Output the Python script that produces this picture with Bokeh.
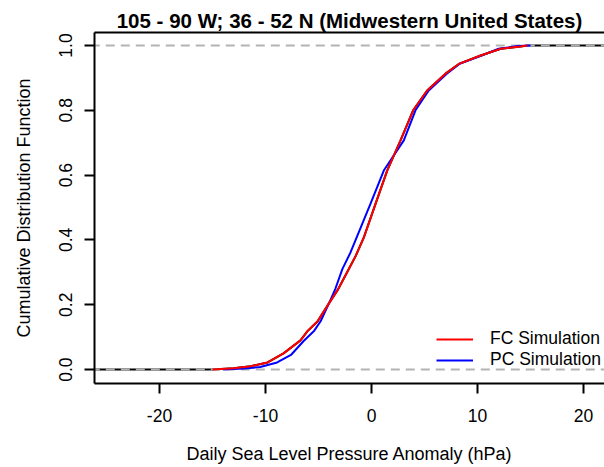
from bokeh.plotting import figure
from bokeh.models import Range1d, FixedTicker, LinearAxis, Legend, LegendItem, Title
from bokeh.embed import file_html
from bokeh.resources import INLINE

title_text = "105 - 90 W; 36 - 52 N (Midwestern United States)"
x_label = "Daily Sea Level Pressure Anomaly (hPa)"
y_label = "Cumulative Distribution Function"
x_ticks = [-20, -10, 0, 10, 20]
y_ticks = [0.0, 0.2, 0.4, 0.6, 0.8, 1.0]

fc_x = [-15.0, -13.0, -11.4, -9.8, -8.3, -6.7, -6.0, -5.1, -4.0, -3.2, -2.3, -1.5,
        -0.72, 0.38, 1.48, 2.74, 3.93, 5.25, 6.98, 8.24, 10.3, 12.2, 14.06, 14.7]
fc_f = [0.0, 0.004, 0.01, 0.022, 0.05, 0.09, 0.12, 0.148, 0.205, 0.245, 0.30, 0.35,
        0.408, 0.511, 0.614, 0.707, 0.80, 0.861, 0.913, 0.943, 0.969, 0.99, 0.997, 1.0]

pc_x = [-14.0, -12.0, -10.5, -8.9, -7.6, -6.4, -5.4, -4.8, -4.0, -3.4, -2.75, -2.0,
        -1.35, -0.1, 1.16, 3.05, 4.15, 5.4, 7.1, 8.3, 10.4, 12.0, 13.8, 15.0]
pc_f = [0.0, 0.003, 0.008, 0.022, 0.045, 0.088, 0.12, 0.149, 0.205, 0.25, 0.31, 0.36,
        0.412, 0.511, 0.614, 0.707, 0.80, 0.861, 0.913, 0.943, 0.969, 0.99, 0.998, 1.0]

tail_lo, tail_hi = -1000.0, 1000.0
ref_levels = [0.0, 1.0]

FONT = "Liberation Sans"

p = figure(width=604, height=467, output_backend="svg", toolbar_location=None,
           x_range=Range1d(-26.13, 21.98), y_range=Range1d(-0.043, 1.040),
           min_border_left=94, min_border_right=0, min_border_top=32,
           min_border_bottom=84, title=None)
p.outline_line_color = None
p.grid.visible = False
p.background_fill_color = "white"
p.border_fill_color = "white"

for ax in (p.xaxis[0], p.yaxis[0]):
    ax.axis_line_color = "black"
    ax.axis_line_width = 2
    ax.major_tick_line_color = "black"
    ax.major_tick_line_width = 2
    ax.major_tick_out = 10
    ax.major_tick_in = 0
    ax.minor_tick_line_color = None
    ax.major_label_text_font = FONT
    ax.major_label_text_font_size = "17.5px"
    ax.major_label_text_color = "black"
    ax.axis_label_text_font = FONT
    ax.axis_label_text_font_size = "18px"
    ax.axis_label_text_font_style = "normal"
    ax.axis_label_text_color = "black"

p.xaxis[0].ticker = FixedTicker(ticks=x_ticks)
p.xaxis[0].major_label_overrides = {t: str(t) for t in x_ticks}
p.xaxis[0].major_label_standoff = 15
p.xaxis[0].axis_label = x_label
p.xaxis[0].axis_label_standoff = 19

p.yaxis[0].ticker = FixedTicker(ticks=y_ticks)
p.yaxis[0].major_label_overrides = {t: f"{t:.1f}" for t in y_ticks}
p.yaxis[0].major_label_orientation = "vertical"
p.yaxis[0].axis_label = y_label
p.yaxis[0].major_label_standoff = 12
p.yaxis[0].axis_label_standoff = 23

top = LinearAxis(ticker=FixedTicker(ticks=[]), axis_line_color="black",
                 axis_line_width=2, major_tick_line_color=None,
                 minor_tick_line_color=None, major_label_text_font_size="0px")
p.add_layout(top, "above")

t = Title(text=title_text, text_font=FONT, text_font_size="20.5px",
          text_font_style="bold", text_color="black", align="center",
          offset=4, standoff=1)
p.add_layout(t, "above")

# base (black) step function with tails, then grey 0/1 lines
p.line([tail_lo] + fc_x + [tail_hi], [0.0] + fc_f + [1.0], line_color="black", line_width=2)
for lvl in ref_levels:
    p.line([tail_lo, tail_hi], [lvl, lvl], line_color="#b3b3b3", line_width=2, line_dash="9 6")

r_pc = p.line(pc_x, pc_f, line_color="blue", line_width=2)
r_fc = p.line(fc_x, fc_f, line_color="red", line_width=2)

legend = Legend(items=[LegendItem(label="FC Simulation", renderers=[r_fc]),
                       LegendItem(label="PC Simulation", renderers=[r_pc])],
                location=(342, 13), border_line_color=None, background_fill_alpha=0,
                padding=0, spacing=0, margin=0, glyph_width=37, glyph_height=20,
                label_height=20, label_standoff=17, label_text_font=FONT,
                label_text_font_size="17.5px", label_text_color="black")
p.add_layout(legend)

open("out.html", "w").write(file_html(p, INLINE))
